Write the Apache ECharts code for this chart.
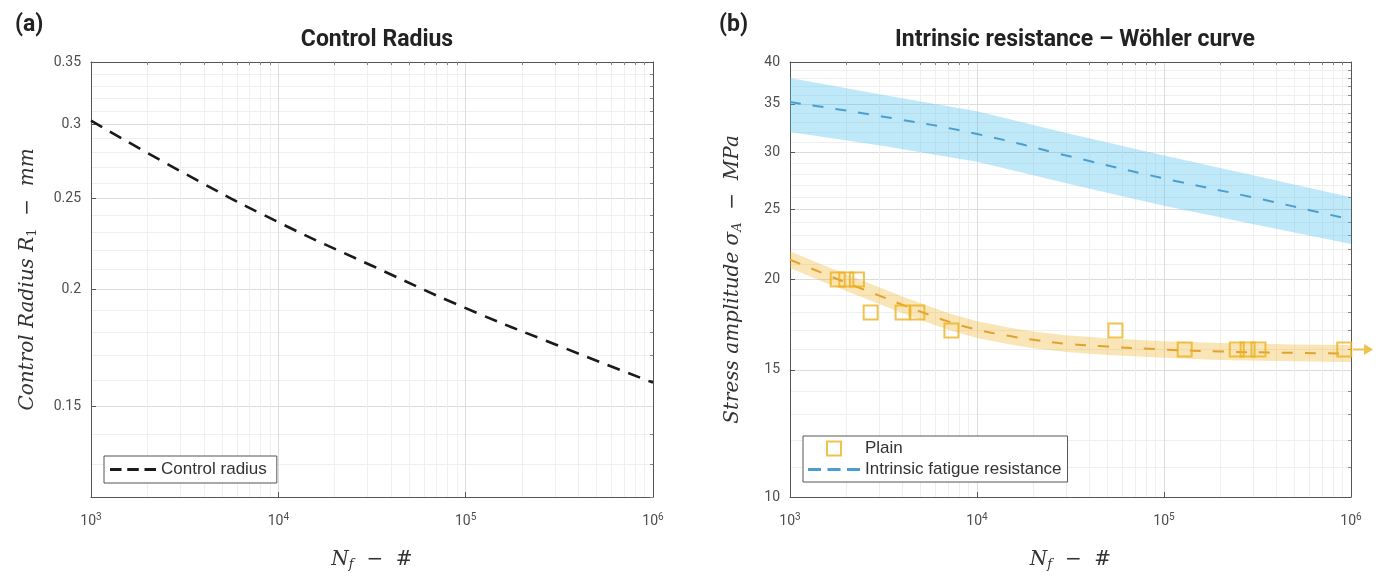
<!DOCTYPE html>
<html><head><meta charset="utf-8">
<script src="https://cdn.jsdelivr.net/npm/echarts@6/dist/echarts.min.js"></script>
<style>html,body{margin:0;padding:0;background:#fff}#c{width:1386px;height:585px}</style>
</head><body><div id="c"></div>
<script>
// ---------- Panel (a): Control radius ----------
const radiusN = [1e3, 3162, 1e4, 31623, 1e5, 316228, 1e6];
const radiusR = [0.303, 0.266, 0.236, 0.212, 0.191, 0.174, 0.159];
const radiusTicks = [0.15, 0.2, 0.25, 0.3, 0.35];
const radiusRange = [0.12, 0.35];

// ---------- Panel (b): Wöhler curve ----------
const plainN = [1800, 2000, 2280, 2700, 4000, 4800, 7300, 55000, 129000, 245000, 280000, 320000, 920000];
const plainS = [20, 20, 20, 18, 18, 18, 17, 17, 16, 16, 16, 16, 16];
const runoutN = [1e6];
const runoutS = [16];
const plainFitN = [1000, 1500, 2000, 3000, 4000, 5000, 7000, 10000, 15000, 20000, 30000, 50000, 1e5, 2e5, 5e5, 1e6];
const plainFitS = [21.3, 20.4, 19.8, 19.0, 18.45, 18.05, 17.5, 17.05, 16.7, 16.5, 16.3, 16.15, 16.0, 15.9, 15.83, 15.8];
const plainFitUpper = [21.88, 20.95, 20.33, 19.51, 18.95, 18.54, 17.97, 17.51, 17.15, 16.95, 16.74, 16.59, 16.43, 16.33, 16.26, 16.23];
const plainFitLower = [20.74, 19.86, 19.28, 18.50, 17.96, 17.58, 17.04, 16.60, 16.26, 16.07, 15.87, 15.72, 15.58, 15.48, 15.41, 15.38];
const intrinsicN = [1e3, 3162, 1e4, 31623, 1e5, 316228, 1e6];
const intrinsicS = [35.2, 33.6, 31.8, 29.6, 27.6, 25.9, 24.2];
const intrinsicUpper = [38.0, 36.0, 34.2, 31.8, 29.7, 27.8, 26.0];
const intrinsicLower = [32.0, 30.6, 29.1, 27.1, 25.3, 23.8, 22.4];
const stressTicks = [10, 15, 20, 25, 30, 35, 40];
const stressRange = [10, 40];

const xTicks = [1e3, 1e4, 1e5, 1e6];
const xRange = [1e3, 1e6];

// ---------- helpers ----------
const L = v => Math.log10(v);
const xMinor = [];
for (let k = 3; k <= 5; k++) for (let m = 2; m <= 9; m++) xMinor.push(m * Math.pow(10, k));
const radiusMinor = [];
for (let v = 12; v <= 35; v++) if (!radiusTicks.some(t => Math.abs(t * 100 - v) < 1e-6)) radiusMinor.push(v / 100);
const stressMinor = [];
for (let v = 11; v < 40; v++) if (!stressTicks.includes(v)) stressMinor.push(v);

const pts = (xs, ys) => xs.map((x, i) => [L(x), L(ys[i])]);
const bandData = (xs, lo, hi) => xs.map((x, i) => [L(x), L(lo[i]), L(hi[i])]);

const frameColor = '#555';
const labelColor = '#4d4d4d';
const majorGrid = '#dcdcdc';
const minorGrid = '#efefef';
const serif = 'DejaVu Serif';
const nameRich = {
  i: { fontFamily: serif, fontStyle: 'italic', fontSize: 20, color: '#333' },
  s: { fontFamily: serif, fontStyle: 'italic', fontSize: 13, color: '#333', padding: [9, 0, 0, 0] },
  u: { fontFamily: serif, fontSize: 13, color: '#333', padding: [9, 0, 0, 0] }
};
const dashIcon = 'path://M0,0H10V2.4H0Z M15,0H25V2.4H15Z M30,0H40V2.4H30Z';

const grids = [
  { left: 91, top: 62, width: 562, height: 435 },
  { left: 790, top: 62, width: 561, height: 435 }
];

function xMajorAxis(gi, name) {
  return {
    type: 'value', gridIndex: gi, position: 'bottom', min: L(xRange[0]), max: L(xRange[1]),
    axisLine: { show: true, lineStyle: { color: frameColor, width: 1 } },
    axisTick: { show: true, inside: true, length: 5, customValues: xTicks.map(L), lineStyle: { color: frameColor } },
    axisLabel: {
      customValues: xTicks.map(L), margin: 15,
      formatter: v => '{b|10}{s|' + Math.round(v) + '}',
      rich: {
        b: { fontSize: 14, color: labelColor, fontFamily: 'Roboto' },
        s: { fontSize: 10, color: labelColor, fontFamily: 'Roboto', padding: [0, 0, 9, 0] }
      }
    },
    splitLine: { show: true, lineStyle: { color: majorGrid, width: 1 } },
    name: name, nameLocation: 'middle', nameGap: 52,
    nameTextStyle: { rich: nameRich }
  };
}
function xMinorAxis(gi) {
  return {
    type: 'value', gridIndex: gi, position: 'top', min: L(xRange[0]), max: L(xRange[1]),
    axisLine: { show: true, lineStyle: { color: frameColor, width: 1 } },
    axisTick: { show: true, inside: true, length: 3, customValues: xMinor.map(L), lineStyle: { color: '#888' } },
    axisLabel: { show: false },
    splitLine: { show: true, lineStyle: { color: minorGrid, width: 1 } }
  };
}
function yMajorAxis(gi, ticks, range, name, gap) {
  return {
    type: 'value', gridIndex: gi, position: 'left', min: L(range[0]), max: L(range[1]),
    axisLine: { show: true, lineStyle: { color: frameColor, width: 1 } },
    axisTick: { show: true, inside: true, length: 5, customValues: ticks.map(L), lineStyle: { color: frameColor } },
    axisLabel: {
      customValues: ticks.map(L), margin: 10, color: labelColor, fontSize: 14, fontFamily: 'Roboto',
      formatter: v => String(Number(Math.pow(10, v).toFixed(2)))
    },
    splitLine: { show: true, lineStyle: { color: majorGrid, width: 1 } },
    name: name, nameLocation: 'middle', nameGap: gap, nameRotate: 90,
    nameTextStyle: { rich: nameRich }
  };
}
function yMinorAxis(gi, minor, range) {
  return {
    type: 'value', gridIndex: gi, position: 'right', min: L(range[0]), max: L(range[1]),
    axisLine: { show: true, lineStyle: { color: frameColor, width: 1 } },
    axisTick: { show: true, inside: true, length: 3, customValues: minor.map(L), lineStyle: { color: '#888' } },
    axisLabel: { show: false },
    splitLine: { show: true, lineStyle: { color: minorGrid, width: 1 } }
  };
}

function bandSeries(name, xAxisIndex, yAxisIndex, data, fill) {
  return {
    type: 'custom', name: name, xAxisIndex, yAxisIndex, data: data, z: 1, silent: true,
    encode: { x: 0, y: [1, 2] },
    renderItem: (params, api) => {
      if (params.dataIndex !== 0) return null;
      const upper = data.map(d => api.coord([d[0], d[2]]));
      const lower = data.map(d => api.coord([d[0], d[1]])).reverse();
      return { type: 'polygon', shape: { points: upper.concat(lower) }, style: { fill: fill } };
    }
  };
}

const orange = '#EDB120';
const blueLine = '#4A9FD0';
const titleStyle = { fontSize: 23, fontWeight: 'bold', color: '#222', fontFamily: 'Roboto' };
const legendText = { fontSize: 17, color: '#333', fontFamily: 'Liberation Sans' };

const option = {
  animation: false,
  backgroundColor: '#fff',
  grid: grids,
  title: [
    { text: '(a)', left: 10, top: 9, textStyle: titleStyle },
    { text: 'Control Radius', left: 372, top: 24, textAlign: 'center', textStyle: titleStyle },
    { text: '(b)', left: 714, top: 9, textStyle: titleStyle },
    { text: 'Intrinsic resistance – Wöhler curve', left: 1070, top: 24, textAlign: 'center', textStyle: titleStyle }
  ],
  legend: [
    {
      left: 104, top: 456, selectedMode: false,
      data: [{ name: 'Control radius', icon: dashIcon, itemStyle: { color: '#1a1a1a' } }],
      backgroundColor: '#fff', borderColor: '#555', borderWidth: 1, borderRadius: 0,
      padding: [5, 10, 5, 6], itemWidth: 46, itemHeight: 12, itemGap: 4,
      textStyle: legendText
    },
    {
      left: 803, top: 436, orient: 'vertical', selectedMode: false,
      data: [
        { name: 'Plain', icon: 'path://M0,0H10V10H0Z' },
        { name: 'Intrinsic fatigue resistance', icon: dashIcon, itemStyle: { color: blueLine } }
      ],
      backgroundColor: '#fff', borderColor: '#555', borderWidth: 1, borderRadius: 0,
      padding: [4, 6, 4, 5], itemGap: 4, itemWidth: 52, itemHeight: 14,
      textStyle: legendText
    }
  ],
  xAxis: [
    xMajorAxis(0, '{i|N}{s|f}{i|  −  #}'),
    xMinorAxis(0),
    xMajorAxis(1, '{i|N}{s|f}{i|  −  #}'),
    xMinorAxis(1)
  ],
  yAxis: [
    yMajorAxis(0, radiusTicks, radiusRange, '{i|Control Radius R}{u|1}{i|  −  mm}', 52),
    yMinorAxis(0, radiusMinor, radiusRange),
    yMajorAxis(1, stressTicks, stressRange, '{i|Stress amplitude σ}{s|A}{i|  −  MPa}', 46),
    yMinorAxis(1, stressMinor, stressRange)
  ],
  series: [
    {
      name: 'Control radius', type: 'line', xAxisIndex: 0, yAxisIndex: 0,
      data: pts(radiusN, radiusR), smooth: true, symbol: 'none', z: 3,
      lineStyle: { color: '#1a1a1a', width: 2.6, type: [13, 9] },
      itemStyle: { color: '#1a1a1a' }
    },
    bandSeries('intrinsicBand', 2, 2, bandData(intrinsicN, intrinsicLower, intrinsicUpper), 'rgba(77,190,238,0.36)'),
    bandSeries('plainBand', 2, 2, bandData(plainFitN, plainFitLower, plainFitUpper), 'rgba(237,177,32,0.33)'),
    {
      name: 'Intrinsic fatigue resistance', type: 'line', xAxisIndex: 2, yAxisIndex: 2,
      data: pts(intrinsicN, intrinsicS), smooth: true, symbol: 'none', z: 3,
      lineStyle: { color: blueLine, width: 2, type: [11, 12] },
      itemStyle: { color: blueLine }
    },
    {
      name: 'Plain fit', type: 'line', xAxisIndex: 2, yAxisIndex: 2,
      data: pts(plainFitN, plainFitS), smooth: true, symbol: 'none', z: 3,
      lineStyle: { color: '#E2A230', width: 2, type: [11, 12] }
    },
    {
      name: 'Plain', type: 'scatter', xAxisIndex: 2, yAxisIndex: 2,
      data: pts(plainN, plainS), symbol: 'rect', symbolSize: 14, z: 4,
      itemStyle: { color: 'rgba(255,255,255,0)', borderColor: orange, borderWidth: 2 }
    },
    {
      name: 'Runout', type: 'scatter', xAxisIndex: 2, yAxisIndex: 2, clip: false,
      data: pts(runoutN, runoutS), symbol: 'path://M0,4H10V0L18,5L10,10V6H0Z', symbolSize: [20, 11],
      symbolOffset: [12, 0], z: 4, itemStyle: { color: orange }
    }
  ]
};

const chart = echarts.init(document.getElementById('c'), null, { renderer: 'canvas' });
chart.setOption(option);
</script>
</body></html>
